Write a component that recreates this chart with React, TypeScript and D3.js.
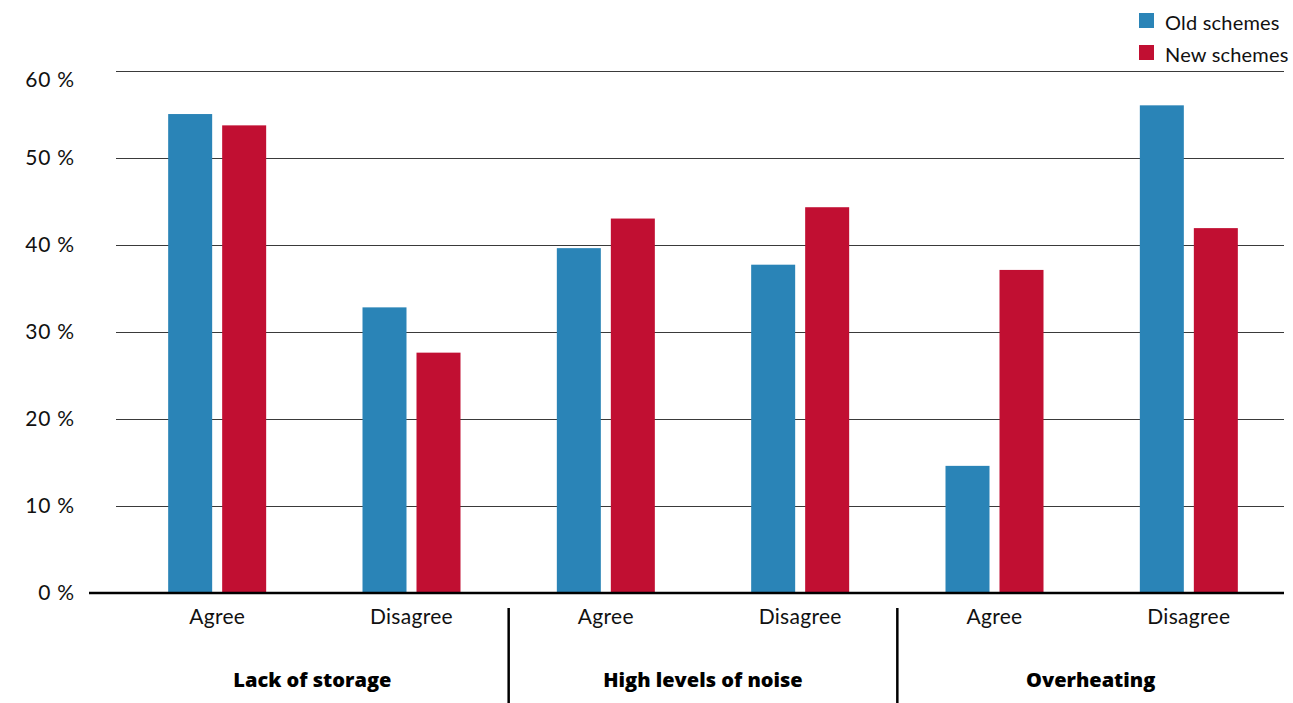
import React from "react";
import * as d3 from "d3";

const categories = ["Agree", "Disagree", "Agree", "Disagree", "Agree", "Disagree"];
const groups = ["Lack of storage", "High levels of noise", "Overheating"];
const seriesNames = ["Old schemes", "New schemes"];
const oldSchemes = [55.0, 32.8, 39.6, 37.7, 14.6, 56.0];
const newSchemes = [53.7, 27.6, 43.0, 44.3, 37.1, 41.9];
const yTicks = [0, 10, 20, 30, 40, 50, 60];
const colors = ["#2A84B7", "#C10F32"];

const W = 1293;
const H = 703;
const FONT = "Lato, 'Open Sans', sans-serif";
const BOLD_FONT = "'Open Sans', Lato, sans-serif";

export default function App() {
  const y = d3.scaleLinear().domain([0, 60]).range([593, 70.5]);
  const keys = categories.map((_, i) => String(i));
  const x0 = d3.scaleBand().domain(keys).range([120, 1286]).padding(0);
  const x1 = d3.scaleBand().domain(["0", "1"]).range([-49, 49]).paddingInner(2 - 98 / 54);
  const series = [oldSchemes, newSchemes];
  const gridLeft = 116;
  const gridRight = 1284;

  return (
    <svg width={W} height={H} style={{ position: "absolute", left: 0, top: 0, background: "#fff" }} fontFamily={FONT}>
      {yTicks.filter((t) => t > 0).map((t) => (
        <line key={"g" + t} x1={gridLeft} x2={gridRight} y1={Math.round(y(t)) + 0.5} y2={Math.round(y(t)) + 0.5} stroke="#3a3a3a" strokeWidth={1} />
      ))}
      {yTicks.map((t) => (
        <text key={"t" + t} x={75} y={Math.max(y(t), 80)} dy="0.35em" textAnchor="end" fontSize={21} letterSpacing={0.8} fill="#111">
          {t + " %"}
        </text>
      ))}
      {series.map((vals, s) =>
        vals.map((v, i) => {
          const cx = (x0(keys[i]) as number) + x0.bandwidth() / 2;
          const bx = cx + (x1(String(s)) as number);
          return (
            <rect key={s + "-" + i} x={bx} y={y(v)} width={x1.bandwidth()} height={y(0) - y(v)} fill={colors[s]} />
          );
        })
      )}
      <line x1={89} x2={gridRight} y1={y(0)} y2={y(0)} stroke="#000" strokeWidth={2.5} />
      {categories.map((c, i) => (
        <text key={"c" + i} x={(x0(keys[i]) as number) + x0.bandwidth() / 2} y={624} textAnchor="middle" fontSize={21} letterSpacing={0.3} fill="#111">
          {c}
        </text>
      ))}
      {[2, 4].map((i) => (
        <line key={"s" + i} x1={x0(keys[i]) as number} x2={x0(keys[i]) as number} y1={608} y2={H} stroke="#000" strokeWidth={2.5} />
      ))}
      {groups.map((g, gi) => {
        const left = gi === 0 ? gridLeft : (x0(keys[gi * 2]) as number);
        const right = gi === groups.length - 1 ? gridRight : (x0(keys[gi * 2 + 2]) as number);
        return (
          <text key={"gl" + gi} x={(left + right) / 2} y={687} textAnchor="middle" fontSize={20} fontWeight={800} fontFamily={BOLD_FONT} fill="#000">
            {g}
          </text>
        );
      })}
      {seriesNames.map((n, i) => (
        <g key={"l" + i} transform={`translate(1139, ${13 + i * 32})`}>
          <rect x={0} y={0} width={15} height={15} fill={colors[i]} />
          <text x={26} y={17} fontSize={20} letterSpacing={0.2} fill="#111">{n}</text>
        </g>
      ))}
    </svg>
  );
}
